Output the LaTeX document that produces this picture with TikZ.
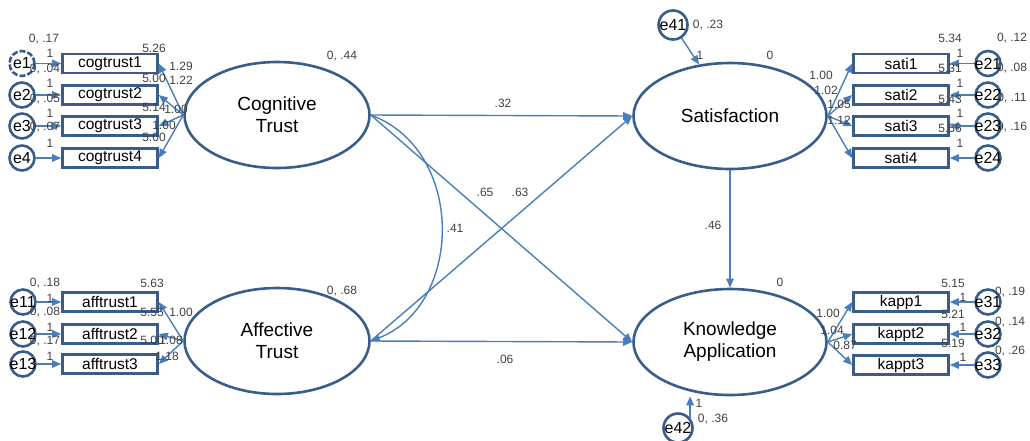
\documentclass[tikz,border=0pt]{standalone}
\usepackage{fontspec}
\setmainfont{Liberation Sans}
\usetikzlibrary{shapes.geometric,arrows.meta}
\definecolor{pathblue}{HTML}{4A7EBB}
\definecolor{boxblue}{HTML}{385D8A}
\newcommand{\errtxt}[1]{\makebox[0pt]{#1}}

\begin{document}
\begin{tikzpicture}[x=1pt,y=-1pt,
  latent node/.style={ellipse,draw=boxblue,line width=2.6pt,minimum height=106pt,inner sep=0pt,align=center,font=\fontsize{19}{22}\selectfont},
  item node/.style={rectangle,draw=boxblue,line width=2.6pt,minimum width=95pt,minimum height=19pt,inner sep=0pt,font=\fontsize{15.5}{16}\selectfont},
  err node/.style={circle,draw=boxblue,line width=2.6pt,minimum size=25pt,inner sep=0pt,font=\fontsize{16}{16}\selectfont},
  num/.style={font=\fontsize{12}{12}\selectfont,text=black!75,inner sep=0pt},
  path line/.style={color=pathblue,line width=1.4pt,-{Triangle[length=9pt,width=7.5pt]}}]

  \useasboundingbox (0,0) rectangle (1030,440);

  % latent variables
  \node[latent node,minimum width=185pt] (cog) at (277,115) {Cognitive\\Trust};
  \node[latent node,minimum width=185pt] (aff) at (277,341) {Affective\\Trust};
  \node[latent node,minimum width=193pt] (sat) at (730,116) {Satisfaction};
  \node[latent node,minimum width=193pt] (know) at (730,342) {Knowledge\\Application};

  % observed items
  \node[item node] (ct1) at (110,63.5) {cogtrust1};
  \node[item node] (ct2) at (110,95) {cogtrust2};
  \node[item node] (ct3) at (110,126) {cogtrust3};
  \node[item node] (ct4) at (110,158) {cogtrust4};
  \node[item node] (at1) at (110,302) {afftrust1};
  \node[item node] (at2) at (110,334) {afftrust2};
  \node[item node] (at3) at (110,364) {afftrust3};
  \node[item node] (s1) at (901,63.5) {sati1};
  \node[item node] (s2) at (901,95) {sati2};
  \node[item node] (s3) at (901,126) {sati3};
  \node[item node] (s4) at (901,158) {sati4};
  \node[item node] (k1) at (901,302) {kapp1};
  \node[item node] (k2) at (901,334) {kappt2};
  \node[item node] (k3) at (901,365) {kappt3};

  % error terms
  \node[err node,dash pattern=on 6pt off 2pt] (e1) at (22,63.5) {\errtxt{e1}};
  \node[err node] (e2) at (22,95) {\errtxt{e2}};
  \node[err node] (e3) at (22,126) {\errtxt{e3}};
  \node[err node] (e4) at (22,158) {\errtxt{e4}};
  \node[err node] (e11) at (23,302) {\errtxt{e11}};
  \node[err node] (e12) at (23,334) {\errtxt{e12}};
  \node[err node] (e13) at (23,364) {\errtxt{e13}};
  \node[err node] (e21) at (988,63.5) {\errtxt{e21}};
  \node[err node] (e22) at (988,95) {\errtxt{e22}};
  \node[err node] (e23) at (988,126) {\errtxt{e23}};
  \node[err node] (e24) at (988,158) {\errtxt{e24}};
  \node[err node] (e31) at (988,302) {\errtxt{e31}};
  \node[err node] (e32) at (988,334) {\errtxt{e32}};
  \node[err node] (e33) at (988,365) {\errtxt{e33}};
  \node[err node,minimum size=29pt] (e41) at (673,25) {\errtxt{e41}};
  \node[err node,minimum size=29pt] (e42) at (678,428) {\errtxt{e42}};

  \path[path line]
   (e1) edge (ct1)
   (e2) edge (ct2)
   (e3) edge (ct3)
   (e4) edge (ct4)
   (e11) edge (at1)
   (e12) edge (at2)
   (e13) edge (at3)
   (e21) edge (s1)
   (e22) edge (s2)
   (e23) edge (s3)
   (e24) edge (s4)
   (e31) edge (k1)
   (e32) edge (k2)
   (e33) edge (k3)
   (e41) edge (sat.121)
   (e42.40) edge (e42.40 |- know.south);

  % loadings
  \path[path line]
   (cog.west) edge (ct1.east)
   (cog.west) edge (ct2.east)
   (cog.west) edge (ct3.east)
   (cog.west) edge (ct4.east)
   (aff.west) edge (at1.east)
   (aff.west) edge (at2.east)
   (aff.west) edge (at3.east)
   (sat.east) edge (s1.west)
   (sat.east) edge (s2.west)
   (sat.east) edge (s3.west)
   (sat.east) edge (s4.west)
   (know.east) edge (k1.west)
   (know.east) edge (k2.west)
   (know.east) edge (k3.west);

  % structural paths
  \path[path line]
   (cog.east) edge (sat.west)
   (cog.east) edge (know.west)
   (aff.east) edge (sat.west)
   (aff.east) edge (know.west)
   (sat.south) edge (know.north);
  \draw[path line] (cog.east) .. controls +(95,35) and +(93,-36) .. (aff.east);

  % estimates
  \node[num] (v1) at (44,39) {0, .17};
  \node[num] (w1) at (50,53) {1};
  \node[num] (v2) at (45,69) {0, .04};
  \node[num] (w2) at (50,83) {1};
  \node[num] (v3) at (45,99) {0, .05};
  \node[num] (w3) at (50,113) {1};
  \node[num] (v4) at (45,127) {0, .07};
  \node[num] (w4) at (50,143) {1};
  \node[num] (m1) at (154,48) {5.26};
  \node[num] (m2) at (154,78) {5.00};
  \node[num] (m3) at (154,107) {5.14};
  \node[num] (m4) at (154,137) {5.00};
  \node[num] (l1) at (181,66) {1.29};
  \node[num] (l2) at (181,80) {1.22};
  \node[num] (l3) at (176,109) {1.00};
  \node[num] (l4) at (164,125) {1.00};

  \node[num] (v11) at (45,283) {0, .18};
  \node[num] (w11) at (50,298) {1};
  \node[num] (v12) at (45,312) {0, .08};
  \node[num] (w12) at (50,327) {1};
  \node[num] (v13) at (45,341) {0, .17};
  \node[num] (w13) at (50,356) {1};
  \node[num] (m11) at (152,283) {5.63};
  \node[num] (m12) at (152,312) {5.55};
  \node[num] (m13) at (152,340) {5.00};
  \node[num] (l11) at (181,312) {1.00};
  \node[num] (l12) at (171,340) {1.08};
  \node[num] (l13) at (167,356) {1.18};

  \node[num] (m21) at (950,38) {5.34};
  \node[num] (w21) at (960,53) {1};
  \node[num] (m22) at (950,68) {5.31};
  \node[num] (w22) at (960,83) {1};
  \node[num] (m23) at (950,99) {5.43};
  \node[num] (w23) at (960,113) {1};
  \node[num] (m24) at (950,128) {5.56};
  \node[num] (w24) at (960,143) {1};
  \node[num] (v21) at (1012,38) {0, .12};
  \node[num] (v22) at (1012,68) {0, .08};
  \node[num] (v23) at (1012,98) {0, .11};
  \node[num] (v24) at (1012,127) {0, .16};
  \node[num] (l21) at (821,75) {1.00};
  \node[num] (l22) at (826,90) {1.02};
  \node[num] (l23) at (839,104) {1.05};
  \node[num] (l24) at (839,120) {1.12};

  \node[num] (m31) at (953,283) {5.15};
  \node[num] (m32) at (953,314) {5.21};
  \node[num] (m33) at (953,343) {5.19};
  \node[num] (w31) at (963,297) {1};
  \node[num] (w32) at (963,327) {1};
  \node[num] (w33) at (963,357) {1};
  \node[num] (v31) at (1010,292) {0, .19};
  \node[num] (v32) at (1010,322) {0, .14};
  \node[num] (v33) at (1010,351) {0, .26};
  \node[num] (l31) at (828,313) {1.00};
  \node[num] (l32) at (832,330) {1.04};
  \node[num] (l33) at (845,345) {0.87};

  \node[num] (vc) at (342,56) {0, .44};
  \node[num] (va) at (342,291) {0, .68};
  \node[num] (ms) at (770,55) {0};
  \node[num] (mk) at (780,282) {0};
  \node[num] (v41) at (708,25) {0, .23};
  \node[num] (w41) at (700,55) {1};
  \node[num] (w42) at (699,403) {1};
  \node[num] (v42) at (713,419) {0, .36};

  \node[num] (b32) at (503,103) {.32};
  \node[num] (b65) at (485,192) {.65};
  \node[num] (b63) at (520,192) {.63};
  \node[num] (c41) at (455,228) {.41};
  \node[num] (b06) at (505,359) {.06};
  \node[num] (b46) at (713,225) {.46};
\end{tikzpicture}
\end{document}
